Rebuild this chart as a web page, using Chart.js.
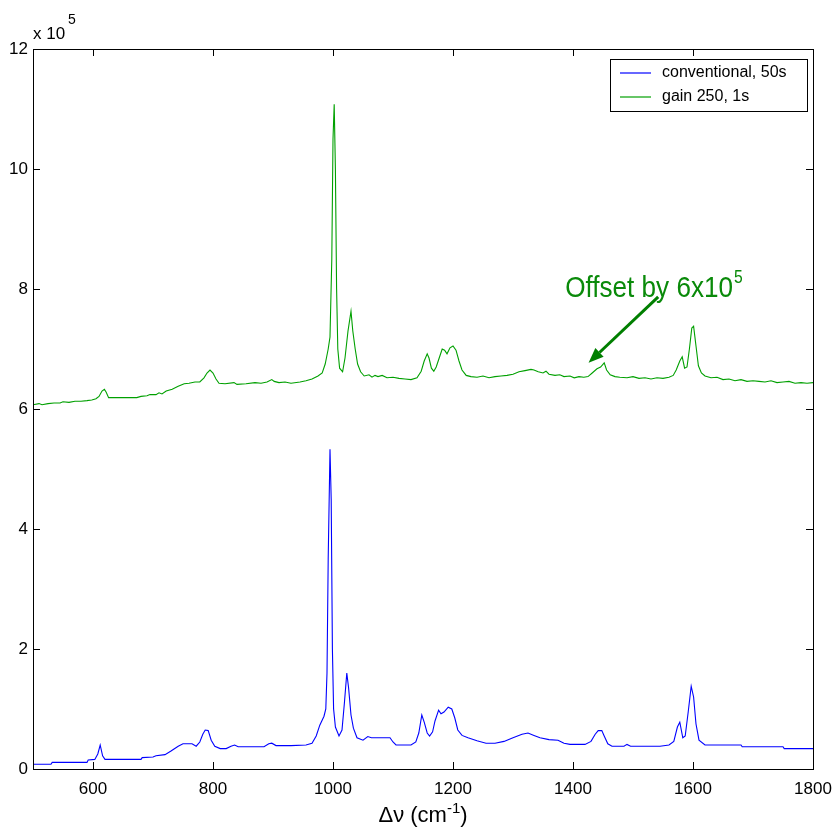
<!DOCTYPE html>
<html>
<head>
<meta charset="utf-8">
<script src="https://cdn.jsdelivr.net/npm/chart.js@4.4.1/dist/chart.umd.min.js"></script>
<style>
  html, body { margin: 0; padding: 0; background: #ffffff; }
  #wrap { width: 836px; height: 829px; position: relative; }
</style>
</head>
<body>
<div id="wrap"><canvas id="c" width="836" height="829"></canvas></div>
<script>
// ---------------- DATA ----------------
const seriesLabels = ["conventional, 50s", "gain 250, 1s"];

// Raman shift (cm-1) and intensity (x10^5) for the conventional 50 s spectrum
const blueShift = [500,530,532,590,592,603,608,612,616,620,680,682,700,705,720,730,742,750,765,772,778,783,787,792,797,803,812,822,830,836,842,860,885,893,898,905,930,955,965,972,978,985,988,990,992,995,997,999,1001,1004,1010,1015,1019,1023,1026,1030,1034,1040,1050,1058,1064,1095,1100,1105,1130,1138,1143,1148,1152,1157,1161,1166,1170,1176,1180,1185,1192,1198,1203,1208,1215,1225,1240,1255,1270,1285,1300,1315,1325,1335,1345,1360,1375,1385,1395,1420,1430,1437,1442,1448,1452,1458,1465,1485,1490,1496,1545,1560,1568,1574,1578,1583,1587,1592,1597,1601,1605,1610,1620,1680,1682,1750,1752,1800];
const blueValues = [0.08,0.08,0.11,0.11,0.15,0.16,0.25,0.40,0.22,0.16,0.16,0.19,0.20,0.22,0.24,0.30,0.38,0.42,0.42,0.38,0.45,0.58,0.65,0.64,0.48,0.38,0.34,0.34,0.38,0.40,0.37,0.37,0.37,0.42,0.43,0.39,0.39,0.40,0.43,0.55,0.73,0.88,1.0,1.6,3.5,5.33,4.5,2.0,1.0,0.7,0.55,0.65,1.1,1.6,1.35,0.9,0.68,0.52,0.48,0.54,0.52,0.52,0.45,0.40,0.40,0.45,0.6,0.9,0.78,0.6,0.55,0.62,0.8,0.98,0.92,0.95,1.03,1.0,0.85,0.65,0.56,0.52,0.47,0.43,0.43,0.46,0.52,0.58,0.60,0.56,0.52,0.49,0.48,0.43,0.41,0.41,0.46,0.58,0.64,0.64,0.55,0.42,0.38,0.38,0.41,0.38,0.38,0.40,0.46,0.70,0.78,0.52,0.55,0.95,1.38,1.2,0.75,0.48,0.40,0.40,0.37,0.37,0.34,0.34];

// Raman shift (cm-1) and intensity (x10^5, already offset by 6x10^5) for the gain 250, 1 s spectrum
const greenShift = [500,510,515,525,535,545,550,560,570,580,590,598,605,610,615,619,622,626,640,673,680,690,695,705,710,715,722,732,742,752,760,770,778,785,790,795,800,805,810,820,835,840,855,870,880,890,898,902,910,920,930,945,955,965,975,982,987,992,995,998,1000,1002,1004,1006,1008,1011,1016,1020,1025,1030,1033,1037,1041,1046,1052,1060,1065,1070,1075,1082,1090,1100,1110,1120,1130,1140,1147,1152,1157,1160,1164,1168,1172,1177,1182,1186,1190,1195,1200,1205,1210,1215,1222,1230,1240,1250,1260,1270,1280,1290,1300,1310,1320,1330,1335,1342,1350,1355,1360,1370,1378,1385,1395,1402,1410,1418,1425,1432,1440,1446,1452,1456,1462,1470,1478,1490,1500,1510,1520,1530,1540,1550,1560,1567,1572,1578,1582,1586,1590,1594,1598,1601,1605,1609,1614,1620,1630,1640,1650,1660,1670,1680,1690,1700,1710,1720,1730,1740,1750,1760,1770,1780,1790,1800];
const greenValues = [6.07,6.09,6.07,6.09,6.10,6.10,6.12,6.11,6.13,6.13,6.14,6.15,6.17,6.21,6.30,6.33,6.28,6.19,6.19,6.19,6.21,6.22,6.24,6.24,6.27,6.25,6.30,6.33,6.38,6.42,6.43,6.45,6.45,6.52,6.60,6.65,6.60,6.50,6.43,6.42,6.44,6.41,6.42,6.44,6.43,6.45,6.49,6.46,6.44,6.45,6.43,6.45,6.47,6.50,6.55,6.60,6.75,7.0,7.2,8.5,10.5,11.08,10.0,8.0,7.0,6.68,6.62,6.85,7.3,7.63,7.3,7.0,6.75,6.62,6.55,6.57,6.53,6.56,6.54,6.56,6.52,6.53,6.51,6.50,6.49,6.52,6.63,6.80,6.92,6.85,6.68,6.63,6.70,6.85,7.00,6.98,6.92,7.02,7.05,6.98,6.80,6.65,6.56,6.54,6.53,6.55,6.52,6.54,6.55,6.56,6.58,6.62,6.64,6.66,6.65,6.62,6.60,6.63,6.58,6.56,6.57,6.54,6.55,6.52,6.54,6.53,6.54,6.60,6.67,6.70,6.77,6.65,6.57,6.54,6.53,6.52,6.54,6.51,6.52,6.50,6.52,6.51,6.53,6.56,6.65,6.80,6.87,6.68,6.70,7.0,7.35,7.38,7.05,6.72,6.60,6.55,6.52,6.53,6.49,6.50,6.47,6.49,6.46,6.47,6.46,6.45,6.47,6.44,6.45,6.46,6.43,6.44,6.43,6.44];

const xTicks = [600, 800, 1000, 1200, 1400, 1600, 1800];
const yTicks = [0, 2, 4, 6, 8, 10, 12];

// annotation: text anchor and arrow (data coordinates)
const annotText = "Offset by 6x10";
const annotSup = "5";
const annotAnchor = [1387, 7.87];
const arrowFrom = [1542, 7.87];
const arrowTo = [1426, 6.77];

// ---------------- CHART ----------------
const FONT = "'Liberation Sans', Arial, Helvetica, sans-serif";
const blueColor = "#0000ff";
const greenColor = "#00a000";

function toPts(xs, ys) { return xs.map((x, i) => ({ x: x, y: ys[i] })); }

const framePlugin = {
  id: 'frame',
  afterDraw(chart) {
    const ctx = chart.ctx;
    const a = chart.chartArea;
    const xs = chart.scales.x, ys = chart.scales.y;
    ctx.save();
    ctx.strokeStyle = '#000';
    ctx.lineWidth = 1;
    ctx.strokeRect(Math.round(a.left) + 0.5, Math.round(a.top) + 0.5, Math.round(a.right - a.left), Math.round(a.bottom - a.top));
    const tl = 7;
    ctx.beginPath();
    xTicks.forEach(v => {
      const px = Math.round(xs.getPixelForValue(v)) + 0.5;
      ctx.moveTo(px, a.bottom); ctx.lineTo(px, a.bottom - tl);
      ctx.moveTo(px, a.top); ctx.lineTo(px, a.top + tl);
    });
    yTicks.forEach(v => {
      const py = Math.round(ys.getPixelForValue(v)) + 0.5;
      ctx.moveTo(a.left, py); ctx.lineTo(a.left + tl, py);
      ctx.moveTo(a.right, py); ctx.lineTo(a.right - tl, py);
    });
    ctx.stroke();

    // exponent label
    ctx.fillStyle = '#000';
    ctx.textBaseline = 'alphabetic';
    ctx.textAlign = 'left';
    ctx.font = '17px ' + FONT;
    ctx.fillText('x 10', a.left, a.top - 10);
    ctx.font = '14px ' + FONT;
    ctx.fillText('5', a.left + 35, a.top - 25);

    // x axis title
    const t1 = '\u0394\u03bd (cm';
    const sup = '-1';
    const t2 = ')';
    ctx.font = '22px ' + FONT;
    const w1 = ctx.measureText(t1).width;
    const w3 = ctx.measureText(t2).width;
    ctx.font = '15px ' + FONT;
    const w2 = ctx.measureText(sup).width;
    const total = w1 + w2 + w3;
    const x0 = (a.left + a.right) / 2 - total / 2;
    const base = 822;
    ctx.font = '22px ' + FONT;
    ctx.fillText(t1, x0, base);
    ctx.font = '15px ' + FONT;
    ctx.fillText(sup, x0 + w1, base - 9);
    ctx.font = '22px ' + FONT;
    ctx.fillText(t2, x0 + w1 + w2, base);

    // legend box
    const lx = 610, ly = 59, lw = 197, lh = 52;
    ctx.fillStyle = '#fff';
    ctx.fillRect(lx, ly, lw, lh);
    ctx.strokeStyle = '#000';
    ctx.lineWidth = 1;
    ctx.strokeRect(lx + 0.5, ly + 0.5, lw, lh);
    const cols = [blueColor, greenColor];
    ctx.font = '16px ' + FONT;
    ctx.textBaseline = 'middle';
    seriesLabels.forEach((lab, i) => {
      const yy = ly + 14 + i * 24;
      ctx.strokeStyle = cols[i];
      ctx.lineWidth = 1.2;
      ctx.beginPath();
      ctx.moveTo(620, yy); ctx.lineTo(651, yy);
      ctx.stroke();
      ctx.fillStyle = '#000';
      ctx.fillText(lab, 662, yy);
    });

    // annotation text
    const ax = xs.getPixelForValue(annotAnchor[0]);
    const ay = ys.getPixelForValue(annotAnchor[1]);
    ctx.fillStyle = '#0a8a0a';
    ctx.textBaseline = 'alphabetic';
    ctx.save();
    ctx.translate(ax, ay);
    ctx.scale(0.87, 1);
    ctx.font = '30px ' + FONT;
    ctx.fillText(annotText, 0, 0);
    const tw = ctx.measureText(annotText).width;
    ctx.font = '18px ' + FONT;
    ctx.fillText(annotSup, tw + 1, -14);
    ctx.restore();

    // arrow
    const fx = xs.getPixelForValue(arrowFrom[0]), fy = ys.getPixelForValue(arrowFrom[1]);
    const tx = xs.getPixelForValue(arrowTo[0]), ty = ys.getPixelForValue(arrowTo[1]);
    const ang = Math.atan2(ty - fy, tx - fx);
    const hl = 15, hw = 6;
    const bx = tx - hl * Math.cos(ang), by = ty - hl * Math.sin(ang);
    ctx.strokeStyle = '#007f00';
    ctx.fillStyle = '#007f00';
    ctx.lineWidth = 3;
    ctx.beginPath();
    ctx.moveTo(fx, fy); ctx.lineTo(bx, by);
    ctx.stroke();
    ctx.beginPath();
    ctx.moveTo(tx, ty);
    ctx.lineTo(bx + hw * Math.sin(ang), by - hw * Math.cos(ang));
    ctx.lineTo(bx - hw * Math.sin(ang), by + hw * Math.cos(ang));
    ctx.closePath();
    ctx.fill();
    ctx.restore();
  }
};

new Chart(document.getElementById('c'), {
  type: 'line',
  data: {
    datasets: [
      { label: seriesLabels[0], data: toPts(blueShift, blueValues), borderColor: blueColor, borderWidth: 1.1, pointRadius: 0, tension: 0, fill: false },
      { label: seriesLabels[1], data: toPts(greenShift, greenValues), borderColor: greenColor, borderWidth: 1.1, pointRadius: 0, tension: 0, fill: false }
    ]
  },
  options: {
    responsive: false,
    animation: false,
    events: [],
    layout: { padding: { left: 0, top: 49, right: 23, bottom: 0 } },
    plugins: { legend: { display: false }, tooltip: { enabled: false }, title: { display: false } },
    scales: {
      x: {
        type: 'linear', min: 500, max: 1800,
        afterFit(s) { s.height = 60; s.paddingLeft = 0; s.paddingRight = 0; },
        afterBuildTicks(s) { s.ticks = xTicks.map(v => ({ value: v })); },
        grid: { display: false, drawTicks: false },
        border: { display: false },
        ticks: { color: '#000', font: { family: FONT, size: 17 }, padding: 10, maxRotation: 0, autoSkip: false, callback: v => String(v) }
      },
      y: {
        type: 'linear', min: 0, max: 12,
        afterFit(s) { s.width = 33; s.paddingTop = 0; s.paddingBottom = 0; },
        afterBuildTicks(s) { s.ticks = yTicks.map(v => ({ value: v })); },
        grid: { display: false, drawTicks: false },
        border: { display: false },
        ticks: { color: '#000', font: { family: FONT, size: 17 }, padding: 5, autoSkip: false, callback: v => String(v) }
      }
    }
  },
  plugins: [framePlugin]
});
</script>
</body>
</html>
